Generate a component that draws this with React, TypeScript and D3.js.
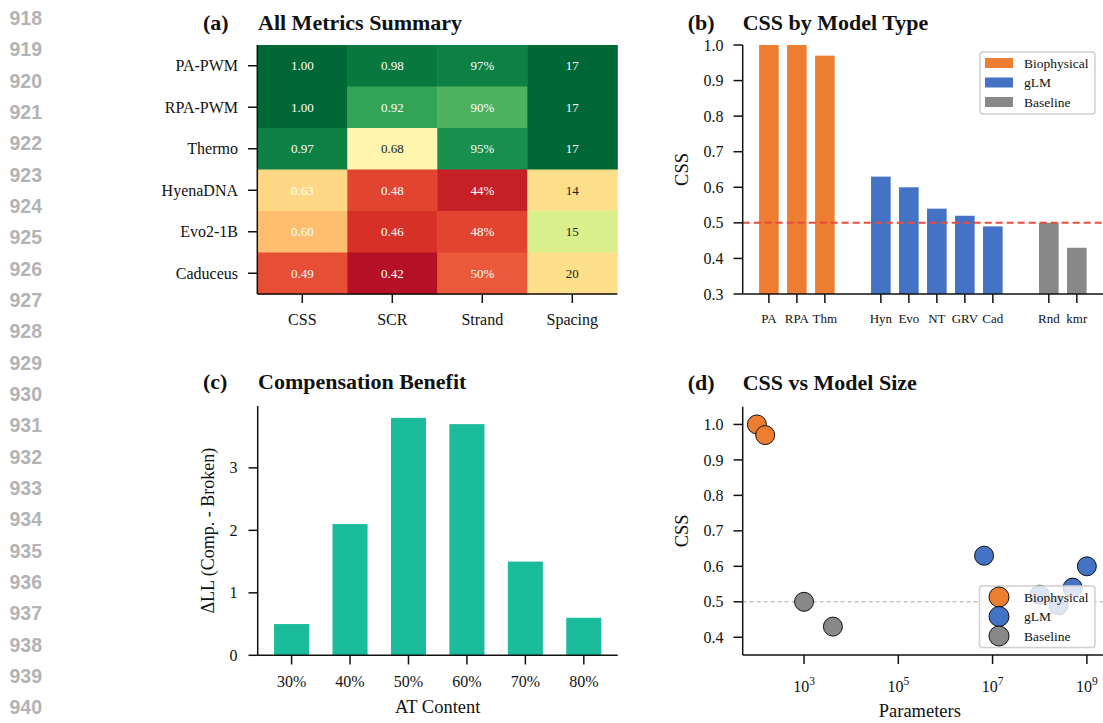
import * as d3 from 'd3';

const lineNumbers = d3.range(918, 941);

// (a) all metrics heatmap
const heatModels = ['PA-PWM', 'RPA-PWM', 'Thermo', 'HyenaDNA', 'Evo2-1B', 'Caduceus'];
const heatMetrics = ['CSS', 'SCR', 'Strand', 'Spacing'];
const cssValues = [1.0, 1.0, 0.97, 0.63, 0.6, 0.49];
const scrValues = [0.98, 0.92, 0.68, 0.48, 0.46, 0.42];
const strandValues = [0.97, 0.9, 0.95, 0.44, 0.48, 0.5];
const spacingValues = [17, 17, 17, 14, 15, 20];

// (b) CSS by model type
const barLabels = ['PA', 'RPA', 'Thm', 'Hyn', 'Evo', 'NT', 'GRV', 'Cad', 'Rnd', 'kmr'];
const barSlots = [0, 1, 2, 4, 5, 6, 7, 8, 10, 11];
const barCss = [1.0, 1.0, 0.97, 0.63, 0.6, 0.54, 0.52, 0.49, 0.5, 0.43];
const barGroups = ['Biophysical', 'Biophysical', 'Biophysical', 'gLM', 'gLM', 'gLM', 'gLM', 'gLM', 'Baseline', 'Baseline'];

const groupNames = ['Biophysical', 'gLM', 'Baseline'];
const groupColors = ['#ED7D31', '#4472C4', '#888888'];

// (c) compensation benefit
const atLabels = ['30%', '40%', '50%', '60%', '70%', '80%'];
const deltaLL = [0.5, 2.1, 3.8, 3.7, 1.5, 0.6];

// (d) CSS vs model size
const sizeParams = [100, 150, 6.6e6, 1e9, 5e8, 1e8, 2.5e8, 1e3, 4096];
const sizeCss = [1.0, 0.97, 0.63, 0.6, 0.54, 0.52, 0.49, 0.5, 0.43];
const sizeGroups = ['Biophysical', 'Biophysical', 'gLM', 'gLM', 'gLM', 'gLM', 'gLM', 'Baseline', 'Baseline'];

const SERIF = '"Liberation Serif", "Times New Roman", serif';
const INK = '#111';

// matplotlib-style RdYlGn (linear segments)
const rdylgn = d3.scaleLinear<string>()
    .domain(d3.range(11).map(i => i / 10))
    .range(['#a50026', '#d73027', '#f46d43', '#fdae61', '#fee08b', '#ffffbf', '#d9ef8b', '#a6d96a', '#66bd63', '#1a9850', '#006837'])
    .clamp(true);
const norm = d3.scaleLinear().domain([0.4, 1.0]).range([0, 1]).clamp(true);
const colorOf = (g: string) => groupColors[groupNames.indexOf(g)];

function Title({ x, y, tag, text }: { x: number; y: number; tag: string; text: string }) {
    return (
        <g fontFamily={SERIF} fontWeight="bold" fontSize={22} fill={INK}>
            <text x={x - 55} y={y}>{tag}</text>
            <text x={x} y={y}>{text}</text>
        </g>
    );
}

function Heatmap() {
    const x = d3.scaleBand(heatMetrics, [257.3, 617.3]);
    const y = d3.scaleBand(heatModels, [45, 294]);
    const columns = [cssValues, scrValues, strandValues, spacingValues];
    const score = (c: number, r: number) => {
        const v = columns[c][r];
        if (c === 3) return 1 - 0.12 * Math.abs(v - 17);
        return v;
    };
    const label = (c: number, r: number) => {
        const v = columns[c][r];
        if (c === 2) return `${Math.round(v * 100)}%`;
        if (c === 3) return `${v}`;
        return v.toFixed(2);
    };
    return (
        <g>
            <Title x={258} y={30} tag="(a)" text="All Metrics Summary" />
            {heatMetrics.map((m, c) => heatModels.map((name, r) => {
                const t = norm(score(c, r));
                const dark = t > 0.39 && t < 0.65;
                return (
                    <g key={m + name}>
                        <rect x={x(m)} y={y(name)} width={x.bandwidth() + 0.5} height={y.bandwidth() + 0.5} fill={rdylgn(t)} />
                        <text x={x(m)! + x.bandwidth() / 2} y={y(name)! + y.bandwidth() / 2} dy="0.35em" textAnchor="middle"
                            fontFamily={SERIF} fontSize={13} fill={dark ? '#222' : '#fff'}>{label(c, r)}</text>
                    </g>
                );
            }))}
            <line x1={257.3} x2={257.3} y1={45} y2={294} stroke={INK} strokeWidth={1.5} />
            <line x1={257.3} x2={617.3} y1={294} y2={294} stroke={INK} strokeWidth={1.5} />
            {heatModels.map(name => {
                const cy = y(name)! + y.bandwidth() / 2;
                return (
                    <g key={name}>
                        <line x1={248} x2={257.3} y1={cy} y2={cy} stroke={INK} strokeWidth={1.5} />
                        <text x={238} y={cy} dy="0.35em" textAnchor="end" fontFamily={SERIF} fontSize={16} fill={INK}>{name}</text>
                    </g>
                );
            })}
            {heatMetrics.map(m => {
                const cx = x(m)! + x.bandwidth() / 2;
                return (
                    <g key={m}>
                        <line x1={cx} x2={cx} y1={294} y2={303} stroke={INK} strokeWidth={1.5} />
                        <text x={cx} y={325} textAnchor="middle" fontFamily={SERIF} fontSize={16} fill={INK}>{m}</text>
                    </g>
                );
            })}
        </g>
    );
}

function BarsByType() {
    const x = d3.scaleLinear().domain([-0.935, 11.935]).range([742.7, 1103]);
    const y = d3.scaleLinear().domain([0.3, 1.0]).range([294, 45]);
    const bw = x(0.7) - x(0);
    const ticks = d3.range(0, 8).map(i => 0.3 + i * 0.1);
    return (
        <g>
            <Title x={742.7} y={30} tag="(b)" text="CSS by Model Type" />
            {barCss.map((v, i) => (
                <rect key={barLabels[i]} x={x(barSlots[i]) - bw / 2} y={y(v)} width={bw} height={y(0.3) - y(v)}
                    fill={colorOf(barGroups[i])} />
            ))}
            <line x1={742.7} x2={1103} y1={y(0.5)} y2={y(0.5)} stroke="#e74c3c" strokeWidth={2} strokeDasharray="7,4" />
            <line x1={742.7} x2={742.7} y1={45} y2={294} stroke={INK} strokeWidth={1.5} />
            <line x1={742.7} x2={1103} y1={294} y2={294} stroke={INK} strokeWidth={1.5} />
            {ticks.map(t => (
                <g key={t}>
                    <line x1={733.5} x2={742.7} y1={y(t)} y2={y(t)} stroke={INK} strokeWidth={1.5} />
                    <text x={723.5} y={y(t)} dy="0.35em" textAnchor="end" fontFamily={SERIF} fontSize={16} fill={INK}>{d3.format('.1f')(t)}</text>
                </g>
            ))}
            {barLabels.map((l, i) => (
                <g key={l}>
                    <line x1={x(barSlots[i])} x2={x(barSlots[i])} y1={294} y2={303} stroke={INK} strokeWidth={1.5} />
                    <text x={x(barSlots[i])} y={323} textAnchor="middle" fontFamily={SERIF} fontSize={13} fill={INK}>{l}</text>
                </g>
            ))}
            <text transform={`translate(688,${(45 + 294) / 2}) rotate(-90)`} textAnchor="middle" fontFamily={SERIF} fontSize={18.5} fill={INK}>CSS</text>
            <rect x={980} y={52} width={115} height={62} rx={3} fill="#fff" fillOpacity={0.85} stroke="#d0d0d0" strokeWidth={1.5} />
            {groupNames.map((g, i) => (
                <g key={g}>
                    <rect x={985} y={58 + i * 19.5} width={28} height={10} fill={groupColors[i]} />
                    <text x={1024} y={63 + i * 19.5} dy="0.35em" fontFamily={SERIF} fontSize={13.5} fill={INK}>{g}</text>
                </g>
            ))}
        </g>
    );
}

function Compensation() {
    const x = d3.scaleLinear().domain([-0.58, 5.58]).range([257.7, 617.7]);
    const y = d3.scaleLinear().domain([0, 3.99]).range([655.3, 406]);
    const bw = x(0.6) - x(0);
    return (
        <g>
            <Title x={258} y={389} tag="(c)" text="Compensation Benefit" />
            {deltaLL.map((v, i) => (
                <rect key={atLabels[i]} x={x(i) - bw / 2} y={y(v)} width={bw} height={y(0) - y(v)} fill="#1ABC9C" />
            ))}
            <line x1={257.7} x2={257.7} y1={406} y2={655.3} stroke={INK} strokeWidth={1.5} />
            <line x1={257.7} x2={617.7} y1={655.3} y2={655.3} stroke={INK} strokeWidth={1.5} />
            {[0, 1, 2, 3].map(t => (
                <g key={t}>
                    <line x1={248.5} x2={257.7} y1={y(t)} y2={y(t)} stroke={INK} strokeWidth={1.5} />
                    <text x={237.5} y={y(t)} dy="0.35em" textAnchor="end" fontFamily={SERIF} fontSize={16} fill={INK}>{t}</text>
                </g>
            ))}
            {atLabels.map((l, i) => (
                <g key={l}>
                    <line x1={x(i)} x2={x(i)} y1={655.3} y2={664.5} stroke={INK} strokeWidth={1.5} />
                    <text x={x(i)} y={686.5} textAnchor="middle" fontFamily={SERIF} fontSize={16} fill={INK}>{l}</text>
                </g>
            ))}
            <text transform={`translate(214,${(406 + 655.3) / 2}) rotate(-90)`} textAnchor="middle" fontFamily={SERIF} fontSize={18} fill={INK}>ΔLL (Comp. - Broken)</text>
            <text x={(257.7 + 617.7) / 2} y={713} textAnchor="middle" fontFamily={SERIF} fontSize={18.5} fill={INK}>AT Content</text>
        </g>
    );
}

function SizeScatter() {
    const x = d3.scaleLog().domain([50, 2.2e9]).range([742.7, 1103]);
    const y = d3.scaleLinear().domain([0.35, 1.05]).range([655, 406.7]);
    const yTicks = [0.4, 0.5, 0.6, 0.7, 0.8, 0.9, 1.0];
    const xTicks = [3, 5, 7, 9];
    return (
        <g>
            <Title x={742.7} y={390} tag="(d)" text="CSS vs Model Size" />
            <line x1={742.7} x2={1103} y1={y(0.5)} y2={y(0.5)} stroke="#aaa" strokeWidth={1} strokeDasharray="4,3" />
            {sizeParams.map((p, i) => (
                <circle key={i} cx={x(p)} cy={y(sizeCss[i])} r={9.5} fill={colorOf(sizeGroups[i])} stroke={INK} strokeWidth={1} />
            ))}
            <line x1={742.7} x2={742.7} y1={406.7} y2={655} stroke={INK} strokeWidth={1.5} />
            <line x1={742.7} x2={1103} y1={655} y2={655} stroke={INK} strokeWidth={1.5} />
            {yTicks.map(t => (
                <g key={t}>
                    <line x1={733.5} x2={742.7} y1={y(t)} y2={y(t)} stroke={INK} strokeWidth={1.5} />
                    <text x={723.5} y={y(t)} dy="0.35em" textAnchor="end" fontFamily={SERIF} fontSize={16} fill={INK}>{d3.format('.1f')(t)}</text>
                </g>
            ))}
            {xTicks.map(e => {
                const px = x(Math.pow(10, e));
                return (
                    <g key={e}>
                        <line x1={px} x2={px} y1={655} y2={664} stroke={INK} strokeWidth={1.5} />
                        <text x={px} y={691.5} textAnchor="middle" fontFamily={SERIF} fontSize={16} fill={INK}>
                            10<tspan dy={-7} fontSize={11.5}>{e}</tspan>
                        </text>
                    </g>
                );
            })}
            <text transform={`translate(688,${(406.7 + 655) / 2}) rotate(-90)`} textAnchor="middle" fontFamily={SERIF} fontSize={18.5} fill={INK}>CSS</text>
            <text x={(742.7 + 1103) / 2 - 3} y={717} textAnchor="middle" fontFamily={SERIF} fontSize={18.5} fill={INK}>Parameters</text>
            <rect x={979.5} y={586} width={115.5} height={61.5} rx={3} fill="#fff" fillOpacity={0.82} stroke="#d0d0d0" strokeWidth={1.5} />
            {groupNames.map((g, i) => (
                <g key={g}>
                    <circle cx={999} cy={597 + i * 19.5} r={10} fill={groupColors[i]} stroke={INK} strokeWidth={1} />
                    <text x={1024} y={597 + i * 19.5} dy="0.35em" fontFamily={SERIF} fontSize={13.5} fill={INK}>{g}</text>
                </g>
            ))}
        </g>
    );
}

export default function App() {
    return (
        <svg width={1103} height={723} style={{ position: 'absolute', left: 0, top: 0, background: '#fff' }}>
            {lineNumbers.map((n, i) => (
                <text key={n} x={9.5} y={25 + i * 31.33} fontFamily='"Liberation Sans", Arial, sans-serif' fontWeight="bold"
                    fontSize={19.5} fill="#b3b3b3">{n}</text>
            ))}
            <Heatmap />
            <BarsByType />
            <Compensation />
            <SizeScatter />
        </svg>
    );
}
